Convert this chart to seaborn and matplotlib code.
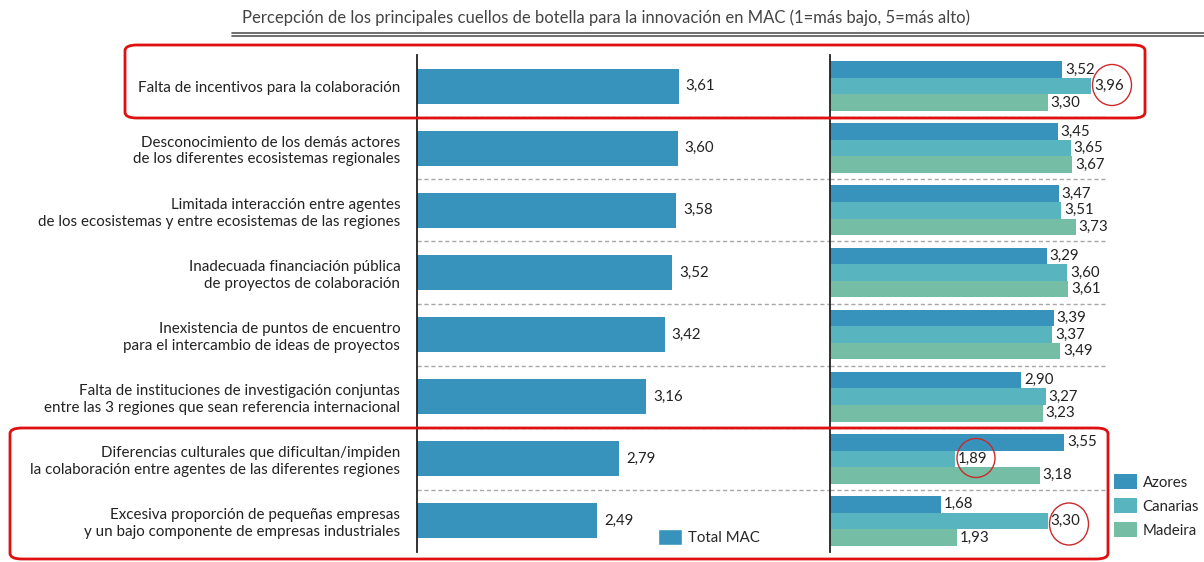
import matplotlib
matplotlib.use("Agg")
import matplotlib.pyplot as plt
import seaborn as sns
import pandas as pd
from matplotlib.patches import FancyBboxPatch, Ellipse, Patch
from matplotlib.lines import Line2D

categories = [
    "Falta de incentivos para la colaboración",
    "Desconocimiento de los demás actores\nde los diferentes ecosistemas regionales",
    "Limitada interacción entre agentes\nde los ecosistemas y entre ecosistemas de las regiones",
    "Inadecuada financiación pública\nde proyectos de colaboración",
    "Inexistencia de puntos de encuentro\npara el intercambio de ideas de proyectos",
    "Falta de instituciones de investigación conjuntas\nentre las 3 regiones que sean referencia internacional",
    "Diferencias culturales que dificultan/impiden\nla colaboración entre agentes de las diferentes regiones",
    "Excesiva proporción de pequeñas empresas\ny un bajo componente de empresas industriales",
]
total_mac = [3.61, 3.60, 3.58, 3.52, 3.42, 3.16, 2.79, 2.49]
azores = [3.52, 3.45, 3.47, 3.29, 3.39, 2.90, 3.55, 1.68]
canarias = [3.96, 3.65, 3.51, 3.60, 3.37, 3.27, 1.89, 3.30]
madeira = [3.30, 3.67, 3.73, 3.61, 3.49, 3.23, 3.18, 1.93]
regions = ["Azores", "Canarias", "Madeira"]
title = "Percepción de los principales cuellos de botella para la innovación en MAC (1=más bajo, 5=más alto)"

c_total = "#3793bb"
palette = {"Azores": "#3793bb", "Canarias": "#58b4bf", "Madeira": "#76bda6"}

sns.set_theme(style="white")
plt.rcParams["font.family"] = ["Lato", "DejaVu Sans"]

W, H = 1204, 562
fig = plt.figure(figsize=(W / 100, H / 100), dpi=100)

def fx(px):
    return px / W

def fy(py):
    return 1 - py / H

ax1 = fig.add_axes([fx(417), fy(552), fx(830 - 417), (552 - 55) / H])
ax2 = fig.add_axes([fx(830), fy(552), fx(1107 - 830), (552 - 55) / H])

df_total = pd.DataFrame({"cat": categories, "val": total_mac})
sns.barplot(data=df_total, y="cat", x="val", color=c_total, width=0.565,
            saturation=1, ax=ax1, orient="h", edgecolor="none")

df_reg = pd.DataFrame({
    "cat": categories * 3,
    "region": sum([[r] * len(categories) for r in regions], []),
    "val": azores + canarias + madeira,
})
sns.barplot(data=df_reg, y="cat", x="val", hue="region", hue_order=regions,
            palette=palette, width=0.8, gap=0, saturation=1, ax=ax2,
            orient="h", edgecolor="none")

fmt = lambda v: f"{v:.2f}".replace(".", ",")

for c in ax1.containers:
    ax1.bar_label(c, labels=[fmt(v) for v in c.datavalues], padding=5,
                  fontsize=10.8, color="#222222")
for c in ax2.containers:
    ax2.bar_label(c, labels=[fmt(v) for v in c.datavalues], padding=2,
                  fontsize=10.8, color="#222222")

for ax, xmax in ((ax1, 5.70), (ax2, 4.2)):
    ax.set_xlim(0, xmax)
    ax.set_ylim(7.5, -0.5)
    ax.set_xlabel("")
    ax.set_ylabel("")
    ax.set_xticks([])
    for s in ("top", "right", "bottom"):
        ax.spines[s].set_visible(False)
    ax.spines["left"].set_color("#222222")
    ax.spines["left"].set_linewidth(1.3)
    ax.patch.set_alpha(0)
    for yv in [i + 0.5 for i in range(7)]:
        ax.axhline(yv, color="#a8a8a8", lw=1, ls=(0, (3, 2)), zorder=0)

ax1.tick_params(axis="y", length=0, pad=12, labelsize=10.9, labelcolor="#222222")
for t in ax1.get_yticklabels():
    t.set_linespacing(1.25)
ax2.set_yticks([])

# legends
ax1.legend(handles=[Patch(facecolor=c_total, label="Total MAC")], loc="center left",
           bbox_to_anchor=(fx(658), fy(537)), bbox_transform=fig.transFigure,
           frameon=False, fontsize=10.8, handlelength=1.6, handleheight=1.3,
           handletextpad=0.4, borderpad=0, borderaxespad=0)
sns.move_legend(ax2, loc="upper left", bbox_to_anchor=(fx(1114), fy(474)),
                bbox_transform=fig.transFigure, title=None, frameon=False,
                fontsize=10.8, handlelength=1.5, handleheight=1.2,
                labelspacing=0.55, handletextpad=0.4, borderpad=0, borderaxespad=0)

# title and rule
fig.text(fx(606), fy(18), title, ha="center", va="center", fontsize=12, color="#444444")
fig.add_artist(Line2D([fx(232), fx(1204)], [fy(33), fy(33)], color="#555555", lw=1.2))
fig.add_artist(Line2D([fx(232), fx(1204)], [fy(36), fy(36)], color="#555555", lw=1.2))

# red highlight boxes
for (x0, y0, x1, y1) in ((125, 45, 1145, 118), (10, 428, 1108, 559)):
    box = FancyBboxPatch((fx(x0), fy(y1)), fx(x1 - x0), (y1 - y0) / H,
                         boxstyle="round,pad=0,rounding_size=0.01",
                         transform=fig.transFigure, fill=False,
                         edgecolor="#e01010", lw=2, zorder=10)
    fig.add_artist(box)

# circles
for (cx, cy, w, h) in ((1112, 85, 39, 41), (976, 458, 38, 39), (1069, 524, 39, 42)):
    fig.add_artist(Ellipse((fx(cx), fy(cy)), fx(w), h / H, transform=fig.transFigure,
                           fill=False, edgecolor="#cc2a2a", lw=1, zorder=11))

fig.savefig("out.png", dpi=100)
